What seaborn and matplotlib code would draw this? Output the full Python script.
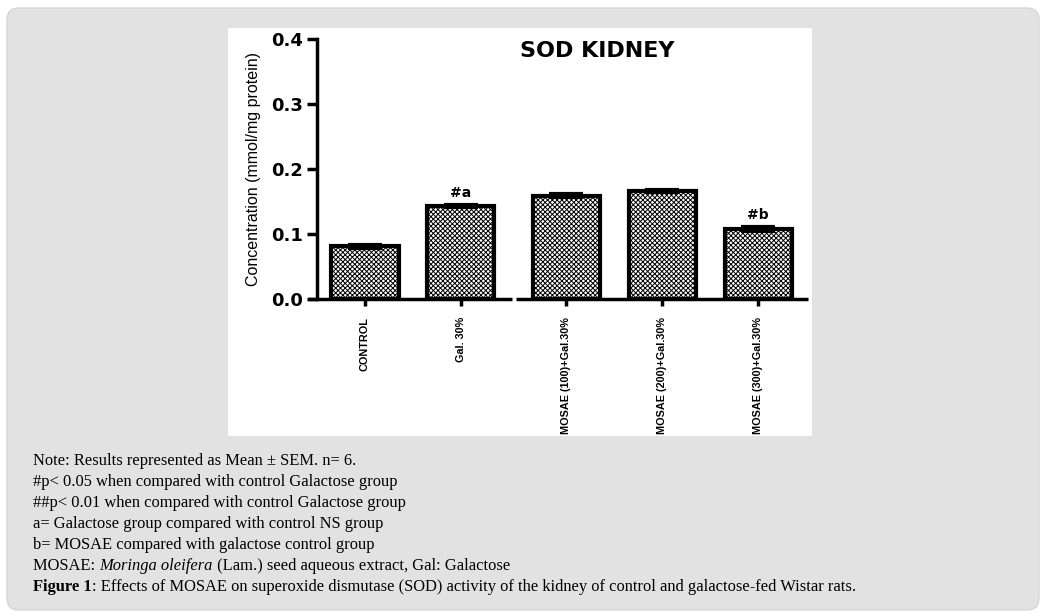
import numpy as np
import seaborn as sns
import matplotlib.pyplot as plt
from matplotlib import font_manager
from matplotlib.patches import FancyBboxPatch, Rectangle
from matplotlib.transforms import IdentityTransform

# data
groups = ['CONTROL', 'Gal. 30%', 'MOSAE (100)+Gal.30%', 'MOSAE (200)+Gal.30%', 'MOSAE (300)+Gal.30%']
means = [0.081, 0.143, 0.159, 0.166, 0.108]
sem = [0.002, 0.002, 0.002, 0.002, 0.003]
marks = ['', '#a', '', '', '#b']
yticks = [0.0, 0.1, 0.2, 0.3, 0.4]

# caption lines, (text, style) pieces
notes = [
    [('Note: Results represented as Mean \u00b1 SEM. n= 6.', 'normal')],
    [('#p< 0.05 when compared with control Galactose group', 'normal')],
    [('##p< 0.01 when compared with control Galactose group', 'normal')],
    [('a= Galactose group compared with control NS group', 'normal')],
    [('b= MOSAE compared with galactose control group', 'normal')],
    [('MOSAE: ', 'normal'), ('Moringa oleifera', 'italic'), (' (Lam.) seed aqueous extract, Gal: Galactose', 'normal')],
    [('Figure 1', 'bold'), (': Effects of MOSAE on superoxide dismutase (SOD) activity of the kidney of control and galactose-fed Wistar rats.', 'normal')],
]

W, H = 1045, 616
names = {f.name for f in font_manager.fontManager.ttflist}
narrow = 'Liberation Sans Narrow' if 'Liberation Sans Narrow' in names else 'Liberation Sans'

sns.set_style('white')
plt.rcParams['hatch.linewidth'] = 0.7
for k in ['text.color', 'axes.labelcolor', 'xtick.color', 'ytick.color']:
    plt.rcParams[k] = 'black'

fig = plt.figure(figsize=(W / 100, H / 100), dpi=100)
fig.patch.set_facecolor('white')

# grey page panel and white chart box
fig.patches.append(FancyBboxPatch((0.07, 0.06), 10.32, 6.02, boxstyle='round,pad=0,rounding_size=0.12',
                                  transform=fig.dpi_scale_trans, facecolor='#e2e2e2', edgecolor='#d6d6d6',
                                  lw=1, zorder=-2))
fig.patches.append(Rectangle((2.28, 1.80), 5.84, 4.08, transform=fig.dpi_scale_trans,
                             facecolor='white', edgecolor='none', zorder=-1))

ax = fig.add_axes([317 / W, 1 - 299 / H, 491 / W, 260 / H])
ax.set_facecolor('none')

# small gap between the Gal group and the MOSAE groups
xpos = np.arange(len(groups)) + np.array([0, 0, 1, 1, 1]) * 0.1

sns.barplot(x=xpos, y=means, native_scale=True, width=0.7, color='white', edgecolor='black',
            linewidth=3, hatch='xxxxxxx', ax=ax)
ax.errorbar(xpos, means, yerr=sem, fmt='none', ecolor='black', elinewidth=3, capsize=12, capthick=3, zorder=5)

for x, m, s, lab in zip(xpos, means, sem, marks):
    if lab:
        ax.text(x, m + s + 0.007, lab, ha='center', va='bottom', fontsize=10, fontweight='bold')

ax.set_xlim(-0.5, 4.62)
ax.set_ylim(0, 0.4)

# axes and broken x axis
for side in ['top', 'right', 'bottom']:
    ax.spines[side].set_visible(False)
ax.spines['left'].set_linewidth(2.5)
ax.spines['left'].set_color('black')
brk = (xpos[1] + xpos[2]) / 2
ax.plot([-0.59, brk - 0.02], [0, 0], color='black', lw=2.5, clip_on=False, solid_capstyle='butt')
ax.plot([brk + 0.02, 4.62], [0, 0], color='black', lw=2.5, clip_on=False, solid_capstyle='butt')

ax.set_yticks(yticks)
ax.set_yticklabels([f'{v:.1f}' for v in yticks], fontsize=13, fontweight='bold')
ax.set_xticks(xpos)
ax.set_xticklabels(groups, rotation=90, fontsize=7.8, fontweight='bold', family=narrow)
ax.tick_params(axis='y', length=7, width=2.5, direction='out', left=True, pad=3)
ax.tick_params(axis='x', length=5, width=2.5, direction='out', bottom=True, pad=8)

ax.set_ylabel('Concentration (mmol/mg protein)', fontsize=11.5, family=narrow)
ax.yaxis.set_label_coords(-0.115, 0.5)

ax.text(0.57, 0.955, 'SOD KIDNEY', transform=ax.transAxes, ha='center', va='center',
        fontsize=16, fontweight='bold', family='DejaVu Sans')

# caption
renderer = fig.canvas.get_renderer()
y = 461
for line in notes:
    x = 33
    for txt, style in line:
        t = fig.text(x, H - y, txt, transform=IdentityTransform(), va='center', ha='left',
                     family='Liberation Serif', fontsize=11.9,
                     fontstyle='italic' if style == 'italic' else 'normal',
                     fontweight='bold' if style == 'bold' else 'normal')
        x = t.get_window_extent(renderer).x1
    y += 21

fig.savefig('out.png', dpi=100)
